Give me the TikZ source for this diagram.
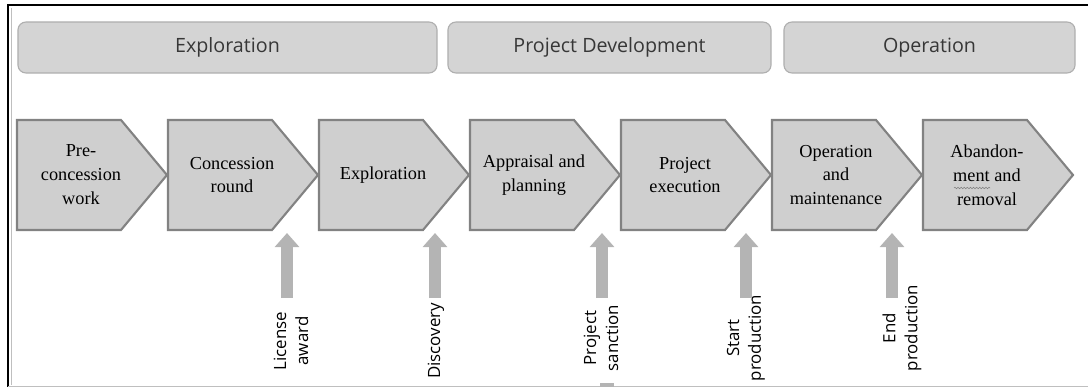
\documentclass[tikz,border=0pt]{standalone}
\usepackage{fontspec}
\setmainfont{Liberation Serif}
\newfontfamily\phasefont{Open Sans}
\usetikzlibrary{arrows.meta,decorations.pathmorphing}

\definecolor{phasefill}{RGB}{212,212,212}
\definecolor{phaseline}{RGB}{175,175,175}
\definecolor{phasetext}{RGB}{55,55,55}
\definecolor{stagefill}{RGB}{207,207,207}
\definecolor{stageline}{RGB}{130,130,130}
\definecolor{arrowgray}{RGB}{180,180,180}

\tikzset{
  phase/.style={draw=phaseline, fill=phasefill, rounded corners=0.2cm, line width=0.8pt,
    minimum height=1.275cm, font=\phasefont\fontsize{14}{16}\selectfont, text=phasetext},
  stagebox/.style={draw=stageline, fill=stagefill, line width=1.5pt, line join=miter},
  stagetext/.style={align=center, inner sep=0pt, font=\fontsize{13}{17}\selectfont},
  eventlabel/.style={rotate=90, align=center, inner sep=0pt,
    font=\phasefont\fontsize{12}{15.5}\selectfont},
  milestone/.style={arrowgray, line width=8.5pt, -{Triangle[length=10pt, width=17pt]}}
}

\begin{document}
\begin{tikzpicture}[x=0.025cm, y=-0.025cm]

  \useasboundingbox (0,0) rectangle (1088,387);

  % frame
  \draw[line width=1.8pt] (8,387) -- (8,5) -- (1088,5);
  \draw[black!25, line width=0.7pt] (11,8) -- (11,385);
  \draw[black!25, line width=0.7pt] (8,386) -- (1088,386);

  % phases
  \node[phase, minimum width=10.475cm] (explphase) at (227.5,47.5) {Exploration};
  \node[phase, minimum width=8.075cm] (devphase) at (609.5,47.5) {Project Development};
  \node[phase, minimum width=7.275cm] (opphase) at (929.5,47.5) {Operation};

  % stages
  \foreach \x/\nm/\txt in {17/pre/{Pre-\\concession\\work},
                           168/conc/{Concession\\round},
                           319/expl/{Exploration},
                           470/appr/{Appraisal and\\planning},
                           621/exec/{Project\\execution},
                           772/oper/{Operation\\and\\maintenance},
                           923/aband/{Abandon-\\ment and\\removal}} {
    \draw[stagebox] (\x,120) -- ++(104,0) -- ++(46,55) -- ++(-46,55) -- ++(-104,0) -- cycle;
    \node[stagetext] (\nm) at (\x+64,175) {\txt};
  }
  % spelling squiggle under "ment"
  \draw[gray, line width=0.4pt, decorate, decoration={snake, amplitude=0.5pt, segment length=2.2pt}]
    (954,188) -- (990,188);

  % milestones
  \foreach \x/\nm/\lx/\ly/\txt in {287/lic/291/341/{License\\award},
                                   435/disc/436/341/{Discovery},
                                   602/sanc/601/338/{Project\\sanction},
                                   746/start/746/338/{Start\\production},
                                   892/endp/902/328/{End\\production}} {
    \node[eventlabel] (\nm) at (\lx,\ly) {\txt};
    \coordinate (\nm-foot) at (\x,298);
    \coordinate (\nm-head) at (\x,233);
    \draw[milestone] (\nm-foot) -- (\nm-head);
  }
  \fill[arrowgray] (600,383) rectangle (614,387);

\end{tikzpicture}
\end{document}
